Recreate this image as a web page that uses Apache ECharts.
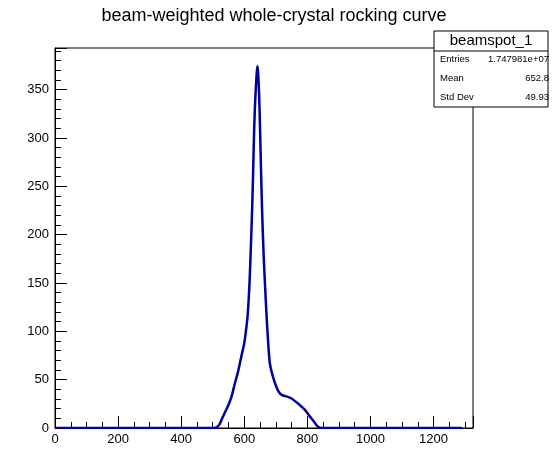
<!DOCTYPE html>
<html>
<head>
<meta charset="utf-8">
<title>beam-weighted whole-crystal rocking curve</title>
<script src="https://cdn.jsdelivr.net/npm/echarts@6/dist/echarts.min.js"></script>
<style>
  html, body { margin: 0; padding: 0; background: #fff; }
  #chart { width: 558px; height: 474px; }
</style>
</head>
<body>
<div id="chart"></div>
<script>
// rocking curve samples
const angle = [0, 500, 510, 520, 530, 540, 550, 560, 570, 580, 590, 600, 605, 610, 613, 616, 619, 622, 625, 628,
  631, 634, 637, 640, 642, 644, 647, 650, 653, 656, 659, 662, 666, 670, 675, 681, 690, 700, 710, 720, 730,
  740, 750, 760, 770, 780, 790, 800, 810, 820, 830, 840, 850, 1290];
const counts = [0, 0, 0.5, 3, 10, 17, 24, 33, 46, 58, 73, 88, 100, 114, 128, 146, 170, 198, 228, 264,
  305, 334, 354, 369, 374, 367, 345, 309, 268, 230, 200, 174, 146, 120, 92, 67, 54, 44, 37, 34, 33,
  32, 30.5, 28, 25.5, 22.5, 19.5, 15.5, 11, 7, 2.5, 0.3, 0, 0];

const statNames = ['Entries', 'Mean', 'Std Dev'];
const statValues = ['1.747981e+07', '652.8', '49.93'];

const chart = echarts.init(document.getElementById('chart'));
const font = 'Liberation Sans, Arial, sans-serif';

const points = angle.map((a, i) => [a, counts[i]]);

const boxLeft = 434, boxTop = 31, boxW = 114, rowH = 19;
const graphics = [
  { type: 'rect', shape: { x: boxLeft, y: boxTop, width: boxW, height: 76 },
    style: { fill: '#fff', stroke: '#000', lineWidth: 1 }, z: 10 },
  { type: 'line', shape: { x1: boxLeft, y1: boxTop + 20, x2: boxLeft + boxW, y2: boxTop + 20 },
    style: { stroke: '#000', lineWidth: 1 }, z: 11 },
  { type: 'text', x: boxLeft + boxW / 2, y: boxTop + 10,
    style: { text: 'beamspot_1', fontSize: 15, fontFamily: font, fill: '#000', align: 'center', verticalAlign: 'middle' }, z: 11 }
];
statNames.forEach((name, i) => {
  const cy = boxTop + 28 + i * rowH;
  graphics.push({ type: 'text', x: boxLeft + 6, y: cy,
    style: { text: name, fontSize: 9.5, fontFamily: font, fill: '#000', align: 'left', verticalAlign: 'middle' }, z: 11 });
  graphics.push({ type: 'text', x: boxLeft + boxW + 1, y: cy,
    style: { text: statValues[i], fontSize: 9.5, fontFamily: font, fill: '#000', align: 'right', verticalAlign: 'middle' }, z: 11 });
});

chart.setOption({
  animation: false,
  backgroundColor: '#fff',
  title: {
    text: 'beam-weighted whole-crystal rocking curve',
    left: 269, top: 2, textAlign: 'center',
    textStyle: { fontFamily: font, fontSize: 18, fontWeight: 'normal', color: '#000' }
  },
  grid: { left: 55, right: 85, top: 48, bottom: 46, show: true, borderColor: '#000', borderWidth: 1 },
  xAxis: {
    type: 'value', min: 0, max: 1325, interval: 200,
    axisLine: { lineStyle: { color: '#000', width: 1 } },
    axisTick: { inside: true, length: 12, lineStyle: { color: '#000' } },
    minorTick: { show: true, splitNumber: 4, length: 6, lineStyle: { color: '#000' } },
    splitLine: { show: false },
    axisLabel: { fontFamily: font, fontSize: 13, color: '#000', margin: 5,
      showMaxLabel: false, formatter: v => String(v) }
  },
  yAxis: {
    type: 'value', min: 0, max: 393, interval: 50,
    axisLine: { show: true, lineStyle: { color: '#000', width: 1 } },
    axisTick: { show: true, inside: true, length: 12, lineStyle: { color: '#000' } },
    minorTick: { show: true, splitNumber: 5, length: 6, lineStyle: { color: '#000' } },
    splitLine: { show: false },
    axisLabel: { fontFamily: font, fontSize: 13, color: '#000', margin: 6, showMaxLabel: false,
      formatter: v => String(v) }
  },
  series: [{
    type: 'line',
    data: points,
    showSymbol: false,
    smooth: 0.3,
    lineStyle: { color: '#00009c', width: 2.5 },
    z: 3
  }],
  graphic: graphics
});
</script>
</body>
</html>
